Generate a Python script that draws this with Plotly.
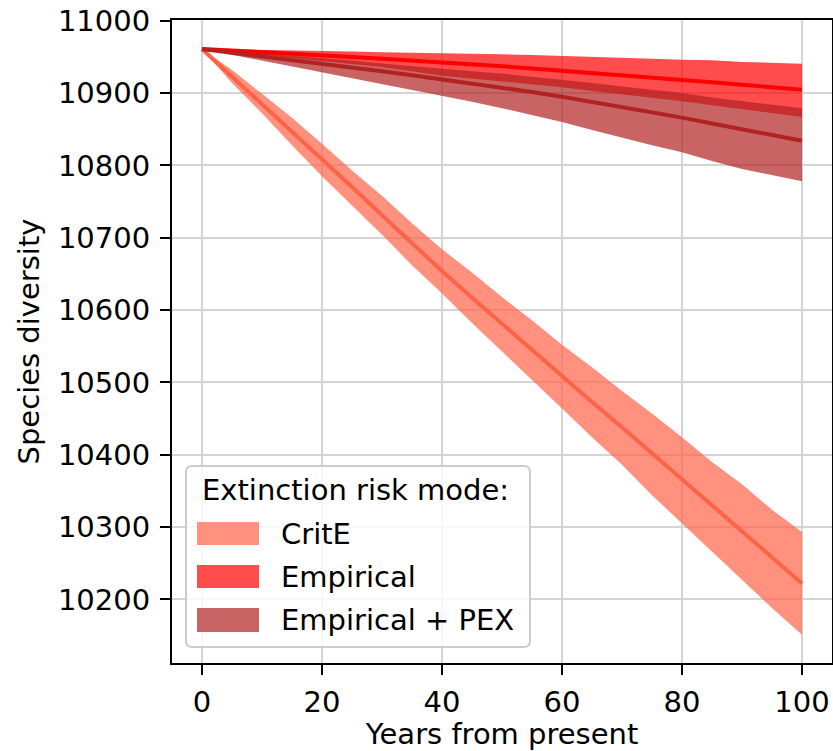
import plotly.graph_objects as go

# ---------------- data ----------------
years = [0, 5, 10, 15, 20, 25, 30, 35, 40, 45, 50, 55, 60, 65, 70, 75, 80, 85, 90, 95, 100]

crite_mean = [10961, 10923, 10885, 10846, 10808, 10770, 10731, 10692, 10654, 10617, 10581,
              10545, 10508, 10473, 10438, 10402, 10367, 10331, 10295, 10258, 10222]
crite_hi = [10961, 10932, 10899, 10866, 10830, 10793, 10758, 10720, 10684, 10652, 10618,
            10586, 10552, 10521, 10488, 10457, 10424, 10390, 10359, 10324, 10293]
crite_lo = [10961, 10914, 10872, 10828, 10785, 10745, 10704, 10662, 10623, 10582, 10543,
            10503, 10464, 10424, 10386, 10344, 10305, 10265, 10227, 10188, 10151]

emp_mean = [10961, 10959, 10957, 10954.5, 10952, 10950, 10947.5, 10945, 10943, 10940, 10937,
            10934, 10931, 10928, 10924.5, 10921, 10918, 10915, 10911.5, 10908, 10904.5]
emp_hi = [10961, 10960.5, 10960, 10959, 10958.5, 10957.5, 10956.5, 10956, 10955, 10954, 10953.5,
          10952.5, 10951.5, 10950, 10948.5, 10947.5, 10946, 10945.5, 10943, 10942, 10940.5]
emp_lo = [10961, 10956, 10952, 10948, 10944, 10940, 10936, 10930, 10924, 10921, 10916,
          10912, 10908, 10903, 10898, 10893, 10888.5, 10883, 10877, 10872, 10867]

pex_mean = [10961, 10956, 10951, 10945.5, 10940, 10935, 10930, 10924.5, 10919, 10913.5, 10908,
            10901.5, 10895, 10888, 10881, 10873.5, 10866, 10858, 10850, 10842, 10834]
pex_hi = [10961, 10958, 10955, 10952, 10949, 10945, 10941, 10937, 10933, 10930, 10927,
          10923, 10919, 10914, 10909, 10905, 10900, 10894, 10889, 10884, 10879]
pex_lo = [10961, 10952, 10944, 10936, 10928, 10920, 10912, 10904, 10896, 10888, 10879,
          10870, 10860, 10849, 10838, 10828, 10818, 10806, 10795, 10786, 10778]

series_names = ["CritE", "Empirical", "Empirical + PEX"]
legend_title = "Extinction risk mode:"
x_ticks = [0, 20, 40, 60, 80, 100]
x_ticktext = ["0", "20", "40", "60", "80", "100"]
y_ticks = [10200, 10300, 10400, 10500, 10600, 10700, 10800, 10900, 11000]
y_ticktext = ["10200", "10300", "10400", "10500", "10600", "10700", "10800", "10900", "11000"]

# ---------------- styling ----------------
FONT = "DejaVu Sans"
FS = 29
line_colors = ["#ff6347", "#ff0000", "#b22222"]
fill_colors = ["rgba(255,99,71,0.7)", "rgba(255,0,0,0.7)", "rgba(178,34,34,0.7)"]

W, H = 833, 751
ML, MR, MT, MB = 172, 1, 20, 88
PW, PH = W - ML - MR, H - MT - MB


def px_x(px):
    return (px - ML) / PW


def px_y(py):
    return (H - MB - py) / PH


fig = go.Figure()

bands = [(crite_mean, crite_lo, crite_hi), (emp_mean, emp_lo, emp_hi), (pex_mean, pex_lo, pex_hi)]
for i, (m, lo, hi) in enumerate(bands):
    fig.add_trace(go.Scatter(
        x=years + years[::-1], y=hi + lo[::-1], fill="toself",
        fillcolor=fill_colors[i], line=dict(width=0), mode="lines",
        showlegend=False, hoverinfo="skip"))
    fig.add_trace(go.Scatter(
        x=years, y=m, mode="lines", line=dict(color=line_colors[i], width=4),
        name=series_names[i], showlegend=False))

axis_common = dict(
    showgrid=True, gridcolor="#d4d4d4", gridwidth=1.6,
    showline=True, linecolor="black", linewidth=2, mirror=True,
    ticks="outside", ticklen=10, tickwidth=2, tickcolor="black",
    zeroline=False,
    tickfont=dict(family=FONT, size=FS, color="black"),
)

fig.update_xaxes(range=[-5, 105], tickvals=x_ticks, ticktext=x_ticktext,
                 title=dict(text="Years from present", font=dict(family=FONT, size=FS, color="black"), standoff=11),
                 ticklabelstandoff=2,
                 **axis_common)
fig.update_yaxes(range=[10112, 11001], tickvals=y_ticks, ticktext=y_ticktext,
                 title=dict(text="Species diversity", font=dict(family=FONT, size=FS, color="black"), standoff=10),
                 ticklabelstandoff=4,
                 **axis_common)

# ---------------- hand-drawn legend (matplotlib style) ----------------
shapes = []
annotations = []


def rounded_rect(x0, y0, x1, y1, r):
    X = lambda v: f"{px_x(v):.5f}"
    Y = lambda v: f"{px_y(v):.5f}"
    return (f"M {X(x0 + r)},{Y(y0)} L {X(x1 - r)},{Y(y0)} Q {X(x1)},{Y(y0)} {X(x1)},{Y(y0 + r)} "
            f"L {X(x1)},{Y(y1 - r)} Q {X(x1)},{Y(y1)} {X(x1 - r)},{Y(y1)} "
            f"L {X(x0 + r)},{Y(y1)} Q {X(x0)},{Y(y1)} {X(x0)},{Y(y1 - r)} "
            f"L {X(x0)},{Y(y0 + r)} Q {X(x0)},{Y(y0)} {X(x0 + r)},{Y(y0)} Z")


shapes.append(dict(type="path", xref="paper", yref="paper",
                   path=rounded_rect(186, 466, 530, 647, 6),
                   fillcolor="rgba(255,255,255,0.8)", line=dict(color="#cccccc", width=2),
                   layer="above"))
annotations.append(dict(xref="paper", yref="paper", x=px_x(200), y=px_y(490),
                        text=legend_title, showarrow=False, xanchor="left", yanchor="middle",
                        font=dict(family=FONT, size=FS, color="black")))
patch_rows = [(522, 545), (565, 588), (608, 632)]
for i, (ya, yb) in enumerate(patch_rows):
    shapes.append(dict(type="rect", xref="paper", yref="paper",
                       x0=px_x(197), x1=px_x(259), y0=px_y(yb), y1=px_y(ya),
                       fillcolor=fill_colors[i], line=dict(width=0), layer="above"))
    annotations.append(dict(xref="paper", yref="paper", x=px_x(279), y=px_y((ya + yb) / 2),
                            text=series_names[i], showarrow=False, xanchor="left", yanchor="middle",
                            font=dict(family=FONT, size=FS, color="black")))

fig.update_layout(
    width=W, height=H,
    margin=dict(l=ML, r=MR, t=MT, b=MB, autoexpand=False),
    paper_bgcolor="white", plot_bgcolor="white",
    font=dict(family=FONT, size=FS, color="black"),
    shapes=shapes, annotations=annotations,
    showlegend=False,
)

fig.write_html("out.html")
